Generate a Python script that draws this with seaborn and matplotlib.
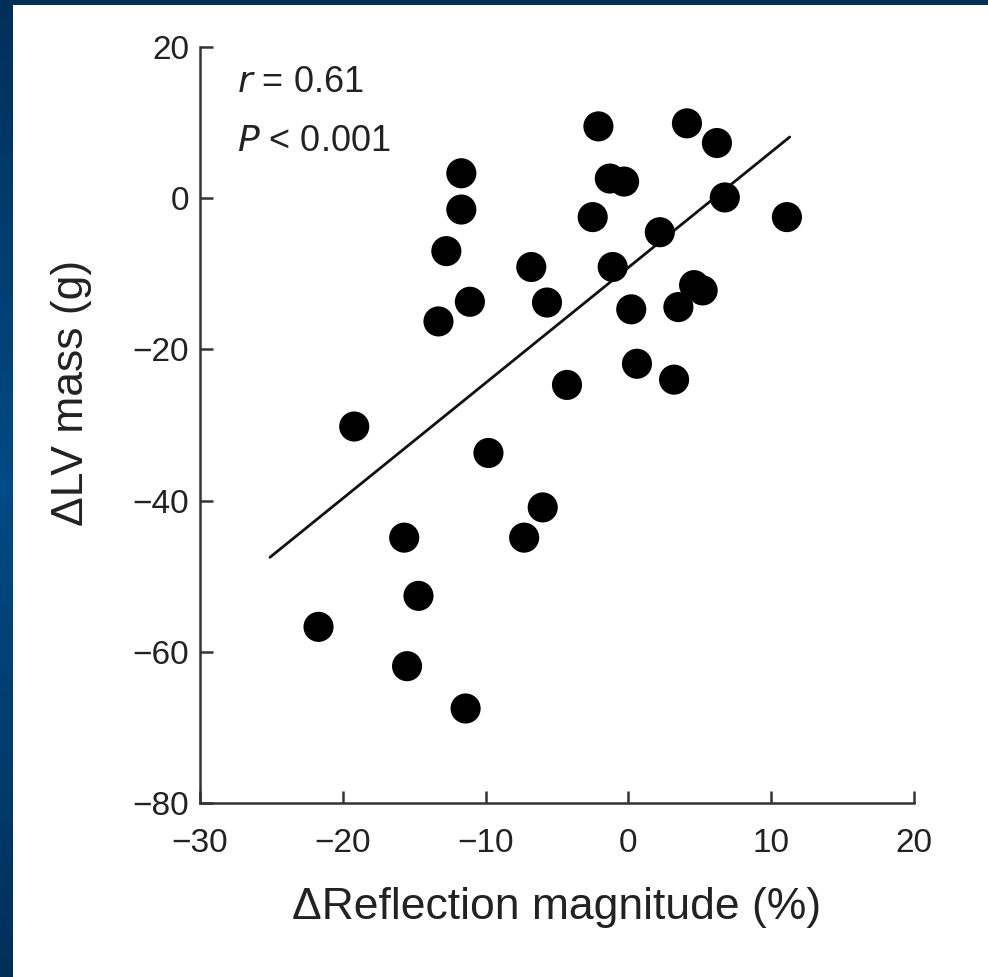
import numpy as np
import pandas as pd
import matplotlib
matplotlib.use("Agg")
import matplotlib.pyplot as plt
import seaborn as sns

# Data
reflection_change = [-21.7, -19.2, -15.7, -15.5, -14.7, -13.3, -12.75, -11.7, -11.7, -11.1,
                     -11.4, -9.8, -7.3, -6.8, -6.0, -5.7, -4.3, -2.5, -2.1, -1.3,
                     -0.3, -1.1, 0.2, 0.6, 2.2, 3.2, 3.5, 4.1, 4.6, 5.2,
                     6.2, 6.75, 11.1]
lv_mass_change = [-56.7, -30.2, -44.9, -61.9, -52.6, -16.3, -7.0, 3.3, -1.5, -13.7,
                  -67.5, -33.7, -44.9, -9.1, -40.9, -13.8, -24.7, -2.5, 9.5, 2.6,
                  2.2, -9.1, -14.7, -21.9, -4.5, -24.0, -14.4, 9.9, -11.5, -12.2,
                  7.3, 0.1, -2.5]
fit_x = [-25.1, 11.3]
fit_y = [-47.5, 8.1]
x_ticks = [-30, -20, -10, 0, 10, 20]
y_ticks = [-80, -60, -40, -20, 0, 20]

df = pd.DataFrame({"x": reflection_change, "y": lv_mass_change})
fit = pd.DataFrame({"x": fit_x, "y": fit_y})

sns.set_theme(style="ticks")
plt.rcParams["font.family"] = ["Liberation Sans", "DejaVu Sans"]
plt.rcParams["axes.unicode_minus"] = True

fig = plt.figure(figsize=(9.88, 9.77), dpi=100, facecolor="white")

# blue frame (left and top strips)
bg = fig.add_axes([0, 0, 1, 1], zorder=-10)
bg.axis("off")
grad = np.concatenate([np.linspace(0, 1, 50), np.linspace(1, 0, 50)]).reshape(-1, 1)
cmap = matplotlib.colors.LinearSegmentedColormap.from_list("frame", ["#00305a", "#004a85"])
bg.imshow(grad, extent=[0, 12, 977, 0], cmap=cmap, aspect="auto")
bg.imshow(np.array([[0.0]]), extent=[0, 988, 5, 0], cmap=cmap, aspect="auto", vmin=0, vmax=1)
bg.set_xlim(0, 988)
bg.set_ylim(977, 0)

ax = fig.add_axes([200 / 988, 1 - 803 / 977, 714 / 988, 756 / 977])
ax.set_facecolor("none")

sns.lineplot(data=fit, x="x", y="y", ax=ax, color="#111111", linewidth=2.0)
sns.scatterplot(data=df, x="x", y="y", ax=ax, color="black", s=470,
                edgecolor="none", zorder=3)

ax.set_xlim(-30, 20)
ax.set_ylim(-80, 20)
ax.set_xticks(x_ticks)
ax.set_yticks(y_ticks)
ax.set_xticklabels([f"{t}".replace("-", "\u2212") for t in x_ticks])
ax.set_yticklabels([f"{t}".replace("-", "\u2212") for t in y_ticks])
ax.tick_params(axis="both", direction="in", length=9, width=1.8, color="#333333",
               labelsize=24, labelcolor="#222222", pad=8)
ax.tick_params(axis="x", pad=18)
for side in ["top", "right"]:
    ax.spines[side].set_visible(False)
for side in ["left", "bottom"]:
    ax.spines[side].set_linewidth(1.8)
    ax.spines[side].set_color("#333333")

ax.set_xlabel("\u0394Reflection magnitude (%)", fontsize=32, color="#222222", labelpad=20)
ax.set_ylabel("\u0394LV mass (g)", fontsize=32, color="#222222")
ax.yaxis.set_label_coords(-0.151, 0.542)

ax.text(0.052, 0.953, r"$\mathit{r}$ = 0.61", transform=ax.transAxes, fontsize=26,
        color="#222222", va="center", ha="left")
ax.text(0.052, 0.875, r"$\mathit{P}$ < 0.001", transform=ax.transAxes, fontsize=26,
        color="#222222", va="center", ha="left")

fig.savefig("out.png", dpi=100, facecolor="white")
